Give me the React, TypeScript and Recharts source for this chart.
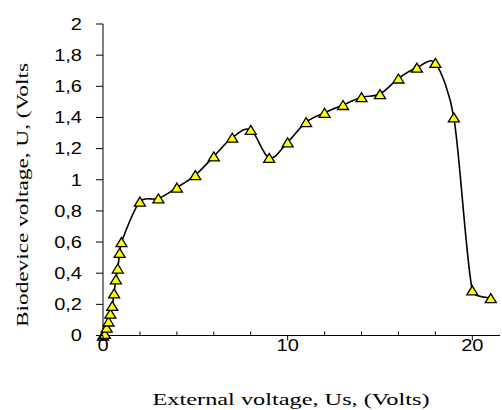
import { LineChart, Line, XAxis, YAxis } from 'recharts'

// Us (external voltage) and U (biodevice voltage)
const externalVoltage = [
  0, 0.1, 0.2, 0.3, 0.4, 0.5, 0.6, 0.7, 0.8, 0.9, 1,
  2, 3, 4, 5, 6, 7, 8, 9, 10, 11, 12, 13, 14, 15, 16, 17, 18, 19, 20, 21,
]
const biodeviceVoltage = [
  0, 0.01, 0.05, 0.09, 0.14, 0.19, 0.27, 0.36, 0.43, 0.53, 0.6,
  0.86, 0.88, 0.95, 1.03, 1.15, 1.27, 1.32, 1.14, 1.24, 1.37, 1.43, 1.48, 1.53, 1.55, 1.65, 1.72, 1.75, 1.4, 0.29, 0.24,
]
const xTicks = [0, 2, 4, 6, 8, 10, 12, 14, 16, 18, 20]
const xLabelled = [0, 10, 20]
const yTicks = [0, 0.2, 0.4, 0.6, 0.8, 1, 1.2, 1.4, 1.6, 1.8, 2]

const data = externalVoltage.map((x, i) => ({ x, u: biodeviceVoltage[i] }))

const TICK_FONT = '"Liberation Sans", Arial, sans-serif'
const LABEL_FONT = '"Liberation Serif", "Times New Roman", serif'

// Excel-like smoothed line: Catmull-Rom bezier, handles capped to the segment length
function excelSmooth(context: any) {
  let pts: number[][] = []
  const cap = (dx: number, dy: number, seg: number) => {
    const len = Math.hypot(dx, dy)
    const max = seg * 0.4
    if (len <= max || len === 0) return [dx, dy]
    return [(dx * max) / len, (dy * max) / len]
  }
  return {
    areaStart() {},
    areaEnd() {},
    lineStart() {
      pts = []
    },
    point(x: number, y: number) {
      pts.push([+x, +y])
    },
    lineEnd() {
      const n = pts.length
      if (!n) return
      context.moveTo(pts[0][0], pts[0][1])
      const t = 1 / 6
      for (let i = 0; i < n - 1; i++) {
        const p0 = pts[i - 1] || pts[i]
        const p1 = pts[i]
        const p2 = pts[i + 1]
        const p3 = pts[i + 2] || pts[i + 1]
        const seg = Math.hypot(p2[0] - p1[0], p2[1] - p1[1])
        const a = cap((p2[0] - p0[0]) * t, (p2[1] - p0[1]) * t, seg)
        const b = cap((p3[0] - p1[0]) * t, (p3[1] - p1[1]) * t, seg)
        context.bezierCurveTo(p1[0] + a[0], p1[1] + a[1], p2[0] - b[0], p2[1] - b[1], p2[0], p2[1])
      }
    },
  }
}

const fmtY = (v: number) => String(Number(v.toFixed(1))).replace('.', ',')

function YTick(props: any) {
  const { x, y, payload } = props
  return (
    <g>
      <line x1={x - 7} x2={x} y1={y} y2={y} stroke="#000" />
      <text
        transform={`translate(${x - 21},${y}) scale(1.25,1)`}
        textAnchor="end"
        dy="0.36em"
        fontSize={16}
        fontFamily={TICK_FONT}
        fill="#000"
      >
        {fmtY(payload.value)}
      </text>
    </g>
  )
}

function XTick(props: any) {
  const { x, y, payload } = props
  const major = xLabelled.includes(payload.value)
  return (
    <g>
      {major ? (
        <line x1={x} x2={x} y1={y} y2={y + 5} stroke="#000" />
      ) : (
        <line x1={x} x2={x} y1={y - 4} y2={y} stroke="#000" />
      )}
      {major && (
        <text
          transform={`translate(${x},${y + 15.5}) scale(1.25,1)`}
          textAnchor="middle"
          fontSize={16}
          fontFamily={TICK_FONT}
          fill="#000"
        >
          {payload.value}
        </text>
      )}
    </g>
  )
}

function Triangle(props: any) {
  const { cx, cy } = props
  if (cx == null || cy == null) return null
  const w = 5.5
  const h = 4.5
  return (
    <polygon
      points={`${cx},${cy - h} ${cx + w},${cy + h} ${cx - w},${cy + h}`}
      fill="#ffff00"
      stroke="#000"
      strokeWidth={1.3}
    />
  )
}

export default function App() {
  return (
    <div style={{ position: 'absolute', left: 0, top: 0, width: 502, height: 410, background: '#fff' }}>
      <LineChart
        width={502}
        height={410}
        data={data}
        margin={{ top: 24, right: 2, bottom: 0, left: 0 }}
      >
        <XAxis
          dataKey="x"
          type="number"
          domain={[0, 21.5]}
          ticks={xTicks}
          interval={0}
          height={74.5}
          tickSize={0}
          tickMargin={0}
          tickLine={false}
          axisLine={{ stroke: '#000' }}
          tick={<XTick />}
          label={{
            content: () => (
              <text
                x={291}
                y={405}
                textAnchor="middle"
                fontSize={17}
                fontFamily={LABEL_FONT}
                textLength={277}
                lengthAdjust="spacingAndGlyphs"
                fill="#000"
              >
                External voltage, Us, (Volts)
              </text>
            ),
          }}
        />
        <YAxis
          type="number"
          domain={[0, 2]}
          ticks={yTicks}
          interval={0}
          width={103}
          tickSize={0}
          tickMargin={0}
          tickLine={false}
          axisLine={{ stroke: '#000' }}
          tick={<YTick />}
          label={{
            content: () => (
              <text
                transform="translate(28,195) rotate(-90)"
                textAnchor="middle"
                fontSize={17}
                fontFamily={LABEL_FONT}
                textLength={264}
                lengthAdjust="spacingAndGlyphs"
                fill="#000"
              >
                Biodevice voltage, U, (Volts
              </text>
            ),
          }}
        />
        <Line
          dataKey="u"
          type={excelSmooth as any}
          stroke="#000"
          strokeWidth={1.6}
          dot={<Triangle />}
          activeDot={false}
          isAnimationActive={false}
        />
      </LineChart>
    </div>
  )
}
